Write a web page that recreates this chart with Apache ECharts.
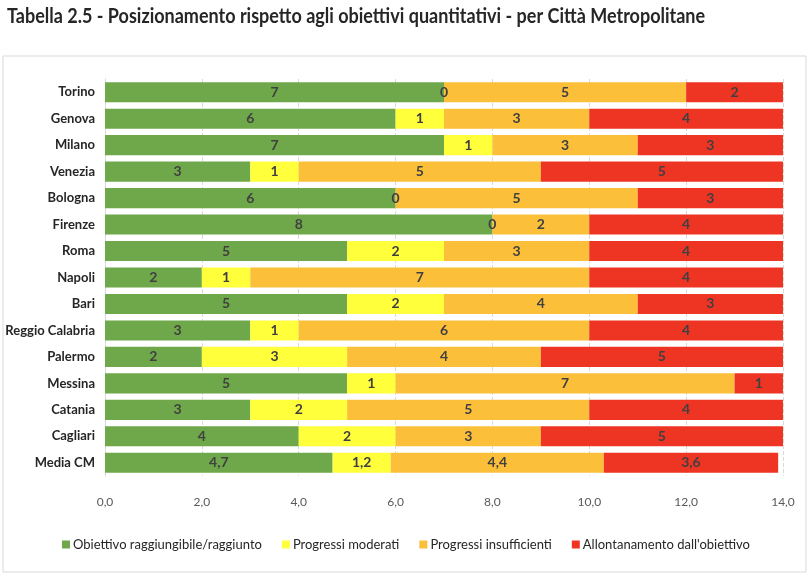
<!DOCTYPE html>
<html><head><meta charset="utf-8">
<script src="https://cdn.jsdelivr.net/npm/echarts@6/dist/echarts.min.js"></script>
<style>html,body{margin:0;padding:0;background:#fff}#c{width:812px;height:580px}</style>
</head><body><div id="c"></div>
<script>
const categories = ['Torino','Genova','Milano','Venezia','Bologna','Firenze','Roma','Napoli','Bari','Reggio Calabria','Palermo','Messina','Catania','Cagliari','Media CM'];
const seriesNames = ['Obiettivo raggiungibile/raggiunto','Progressi moderati','Progressi insufficienti',"Allontanamento dall'obiettivo"];
const raggiunto   = [7,6,7,3,6,8,5,2,5,3,2,5,3,4,4.7];
const moderati    = [0,1,1,1,0,0,2,1,2,1,3,1,2,2,1.2];
const insufficienti = [5,3,3,5,5,2,3,7,4,6,4,7,5,3,4.4];
const allontanamento = [2,4,3,5,3,4,4,4,3,4,5,1,4,5,3.6];
const colors = ['#6FA84A','#FFFF3C','#FBBF3A','#EE3524'];
const FONT = 'Lato, "Open Sans", sans-serif';

const chart = echarts.init(document.getElementById('c'));
const fmt = v => (Math.round(v*10)/10).toString().replace('.',',');
const data = [raggiunto, moderati, insufficienti, allontanamento];
chart.setOption({
  animation:false,
  textStyle:{fontFamily:FONT},
  graphic:[
    {type:'rect', shape:{x:3,y:56,width:803,height:516}, style:{fill:'none',stroke:'#d9d9d9',lineWidth:1}},
    {type:'text', x:7, y:7, scaleX:0.9, style:{text:'Tabella 2.5 - Posizionamento rispetto agli obiettivi quantitativi - per Città Metropolitane', font:'bold 20px '+FONT, fill:'#262626'}}
  ],
  grid:{left:105, right:29, top:79, bottom:104, outerBoundsMode:'none', containLabel:false},
  xAxis:{type:'value', min:0, max:14, interval:2,
    axisLabel:{formatter:v=>v.toFixed(1).replace('.',','), color:'#595959', fontSize:12, margin:20, fontFamily:FONT},
    splitLine:{lineStyle:{color:'#d9d9d9', type:'dashed'}},
    axisLine:{show:false}, axisTick:{show:false}},
  yAxis:{type:'category', data:categories, inverse:true,
    axisLabel:{color:'#262626', fontSize:13, fontWeight:'bold', margin:10, fontFamily:FONT},
    axisLine:{show:true, lineStyle:{color:'#d9d9d9'}}, axisTick:{show:false}},
  legend:{bottom:24, left:'center', itemWidth:8, itemHeight:8, itemGap:20, icon:'rect',
    textStyle:{color:'#262626', fontSize:13, fontFamily:FONT, padding:[0,0,0,-2]}},
  series: seriesNames.map((n,i)=>({
    name:n, type:'bar', stack:'s', barWidth:'76%',
    itemStyle:{color:colors[i]},
    label:{show:true, position:'inside', formatter:p=>fmt(p.value), color:'#404040', fontSize:14, fontWeight:'bold', fontFamily:FONT},
    data:data[i]
  }))
});
</script></body></html>
